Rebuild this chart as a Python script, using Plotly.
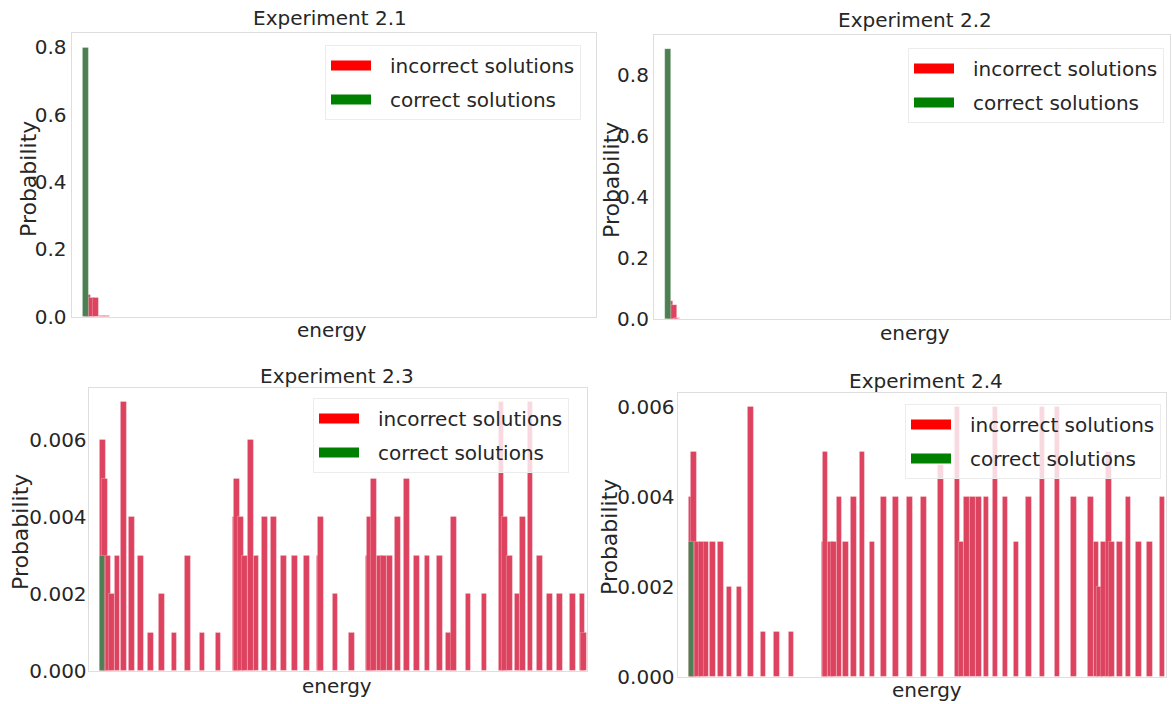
import plotly.graph_objects as go

# ---------------- data (energy in arbitrary units, probability) ----------------
# Experiment 2.1
e21_incorrect = [15.8, 20.3, 23.6, 29.6, 35.3, 41.3]
p21_incorrect = [0.066, 0.055, 0.057, 0.003, 0.002, 0.001]
e21_correct = [13.6]
p21_correct = [0.80]

# Experiment 2.2
e22_incorrect = [16.0, 20.0, 23.0, 27.0, 31.0]
p22_incorrect = [0.061, 0.047, 0.004, 0.002, 0.001]
e22_correct = [14.0]
p22_correct = [0.885]

# Experiment 2.3
e23_incorrect = [14.2, 15.9, 19.5, 22.8, 28.5, 35.2, 42.9, 51.9, 61.9, 72.9,
                 85.5, 99.2, 113.5, 129.5, 146.9, 147.7, 152.2, 156.2, 161.9, 167.5,
                 175.9, 184.9, 194.9, 205.9, 218.2, 230.9, 232.2, 246.5, 262.9, 279.5,
                 280.9, 285.2, 290.9, 295.2, 300.9, 308.7, 317.7, 327.7, 338.5, 351.0,
                 360.2, 364.7, 379.4, 395.5, 412.5, 416.2, 420.9, 428.5, 434.2, 441.5,
                 450.9, 460.7, 471.2, 484.2, 493.4, 495.2]
p23_incorrect = [0.006, 0.005, 0.003, 0.002, 0.003, 0.007, 0.004, 0.003, 0.001, 0.002,
                 0.001, 0.003, 0.001, 0.001, 0.004, 0.005, 0.004, 0.003, 0.006, 0.003,
                 0.004, 0.004, 0.003, 0.003, 0.003, 0.003, 0.004, 0.002, 0.001, 0.003,
                 0.004, 0.005, 0.003, 0.003, 0.003, 0.004, 0.005, 0.003, 0.003, 0.003,
                 0.001, 0.004, 0.002, 0.002, 0.007, 0.004, 0.003, 0.002, 0.004, 0.007,
                 0.003, 0.002, 0.002, 0.002, 0.002, 0.001]
e23_correct = [13.5]
p23_correct = [0.003]

# Experiment 2.4
e24_incorrect = [14.2, 16.2, 19.7, 24.2, 28.5, 35.2, 42.9, 51.5, 61.5, 72.9,
                 85.5, 98.9, 113.5, 146.9, 147.5, 152.9, 156.2, 161.5, 167.7, 175.7,
                 184.4, 194.4, 205.9, 218.2, 231.9, 246.2, 262.7, 279.5, 283.5, 289.2,
                 295.2, 301.2, 308.5, 317.5, 327.4, 338.5, 351.2, 364.5, 379.5, 395.7,
                 412.7, 418.4, 421.7, 425.7, 431.0, 433.7, 441.9, 450.4, 460.9, 471.9,
                 484.5]
p24_incorrect = [0.004, 0.005, 0.003, 0.003, 0.003, 0.003, 0.003, 0.002, 0.002, 0.006,
                 0.001, 0.001, 0.001, 0.003, 0.005, 0.003, 0.003, 0.004, 0.003, 0.004,
                 0.005, 0.003, 0.004, 0.004, 0.004, 0.004, 0.0047, 0.006, 0.003, 0.004,
                 0.004, 0.004, 0.004, 0.006, 0.004, 0.003, 0.004, 0.006, 0.006, 0.004,
                 0.004, 0.003, 0.002, 0.003, 0.005, 0.003, 0.003, 0.004, 0.003, 0.003,
                 0.004]
e24_correct = [13.5]
p24_correct = [0.003]

titles = ["Experiment 2.1", "Experiment 2.2", "Experiment 2.3", "Experiment 2.4"]
legend_labels = ["incorrect solutions", "correct solutions"]
top_ticks = [0.0, 0.2, 0.4, 0.6, 0.8]
bottom_ticks = [0.000, 0.002, 0.004, 0.006]

# ---------------- styling ----------------
W, H = 1172, 704
FONT = "DejaVu Sans"
TXT = "#262626"
RED = "rgb(221,66,95)"
GREEN = "rgb(76,128,82)"
FRAME = "#dedede"
LEGEND_PAD = "\u2002\u2009"  # visual gap between patch and label

panels = [
    # (incorrect x, y, correct x, y, bar width, xrange, yrange, ticks, fmt, domain x px, domain y px, label standoff)
    (e21_incorrect, p21_incorrect, e21_correct, p21_correct, 6.2, [0, 524.3], [0, 0.8435], top_ticks, "{:.1f}", (71.7, 596), (32.7, 316.7), 0),
    (e22_incorrect, p22_incorrect, e22_correct, p22_correct, 6.0, [0, 516], [0, 0.931], top_ticks, "{:.1f}", (654, 1170), (35, 319.3), 0),
    (e23_incorrect, p23_incorrect, e23_correct, p23_correct, 5.7, [0, 498.3], [0, 0.00736], bottom_ticks, "{:.3f}", (88.7, 587), (387.7, 671), -3),
    (e24_incorrect, p24_incorrect, e24_correct, p24_correct, 5.7, [0, 488.3], [0, 0.00631], bottom_ticks, "{:.3f}", (677.7, 1166), (392.7, 676.7), -2),
]

title_pos = [(330, 18), (915, 20), (337, 376), (926, 381)]
xlabel_pos = [(332, 330), (915, 333), (337, 686), (927, 690)]
ylabel_pos = [(28, 179), (612, 180), (20, 532), (609, 537)]
legend_pos = [(325, 45), (908, 48), (313, 398), (905, 404)]

fig = go.Figure()
annotations = []
layout = {}

for i, (ex_in, py_in, ex_c, py_c, bw, xr, yr, ticks, fmt, (x0, x1), (y0, y1), stand) in enumerate(panels):
    n = "" if i == 0 else str(i + 1)
    xa, ya = "x" + n, "y" + n
    lg = "legend" + n
    fig.add_trace(go.Bar(x=ex_in, y=py_in, width=bw, xaxis=xa, yaxis=ya,
                         marker=dict(color=RED, line=dict(color="rgba(255,255,255,0.45)", width=0.6)),
                         showlegend=False, hoverinfo="x+y", name=legend_labels[0]))
    fig.add_trace(go.Bar(x=ex_c, y=py_c, width=bw, xaxis=xa, yaxis=ya,
                         marker=dict(color=GREEN, line=dict(color="rgba(255,255,255,0.45)", width=0.6)),
                         showlegend=False, hoverinfo="x+y", name=legend_labels[1]))
    # legend entries
    fig.add_trace(go.Scatter(x=[None], y=[None], mode="lines", xaxis=xa, yaxis=ya,
                             line=dict(color="red", width=15), name=LEGEND_PAD + legend_labels[0],
                             legend=lg, legendgroup="inc" + n))
    fig.add_trace(go.Scatter(x=[None], y=[None], mode="lines", xaxis=xa, yaxis=ya,
                             line=dict(color="green", width=15), name=LEGEND_PAD + legend_labels[1],
                             legend=lg, legendgroup="cor" + n))

    layout["xaxis" + n] = dict(domain=[x0 / W, x1 / W], range=xr, anchor=ya,
                               showticklabels=False, showgrid=False, zeroline=False, ticks="",
                               showline=True, mirror=True, linecolor=FRAME, linewidth=1.2)
    layout["yaxis" + n] = dict(domain=[1 - y1 / H, 1 - y0 / H], range=yr, anchor=xa,
                               tickvals=ticks, ticktext=[fmt.format(t) for t in ticks],
                               tickfont=dict(family=FONT, size=20, color=TXT),
                               ticklabelstandoff=stand,
                               showgrid=False, zeroline=False, ticks="",
                               showline=True, mirror=True, linecolor=FRAME, linewidth=1.2)
    lx, ly = legend_pos[i]
    layout[lg] = dict(x=lx / W, y=1 - ly / H, xanchor="left", yanchor="top",
                      bgcolor="rgba(255,255,255,0.8)", bordercolor="#ececec", borderwidth=1,
                      font=dict(family=FONT, size=20, color=TXT), traceorder="grouped",
                      itemwidth=40, tracegroupgap=5)

    tx, ty = title_pos[i]
    annotations.append(dict(text=titles[i], x=tx / W, y=1 - ty / H, xref="paper", yref="paper",
                            showarrow=False, xanchor="center", yanchor="middle",
                            font=dict(family=FONT, size=20, color=TXT)))
    ex, ey = xlabel_pos[i]
    annotations.append(dict(text="energy", x=ex / W, y=1 - ey / H, xref="paper", yref="paper",
                            showarrow=False, xanchor="center", yanchor="middle",
                            font=dict(family=FONT, size=20, color=TXT)))
    yx, yy = ylabel_pos[i]
    annotations.append(dict(text="Probability", x=yx / W, y=1 - yy / H, xref="paper", yref="paper",
                            showarrow=False, xanchor="center", yanchor="middle", textangle=-90,
                            font=dict(family=FONT, size=22, color=TXT)))

fig.update_layout(width=W, height=H,
                  margin=dict(l=0, r=0, t=0, b=0, pad=0, autoexpand=False),
                  paper_bgcolor="white", plot_bgcolor="white", barmode="overlay",
                  bargap=0, annotations=annotations, **layout)

fig.write_html("out.html")
